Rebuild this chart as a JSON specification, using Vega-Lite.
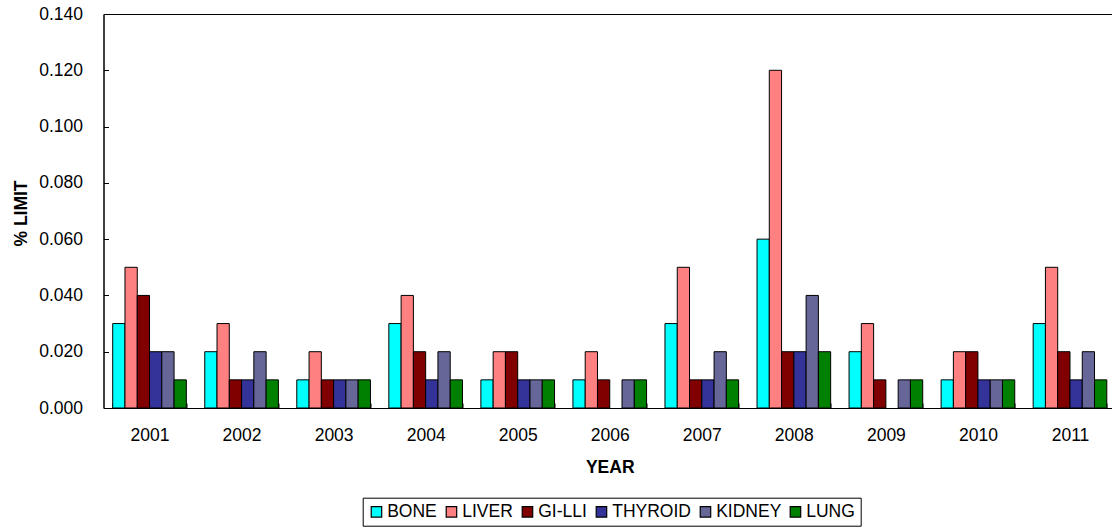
{
  "$schema": "https://vega.github.io/schema/vega-lite/v6.json",
  "autosize": {"type": "none"},
  "padding": {"left": 103.5, "top": 14, "right": 0, "bottom": 121},
  "width": 1012.5,
  "height": 394,
  "config": {
    "font": "Liberation Sans",
    "view": {"stroke": "black", "strokeWidth": 1},
    "axis": {"domainColor": "black", "tickColor": "black", "labelColor": "black", "titleColor": "black", "grid": false}
  },
  "data": {
    "values": [
      {"year": "2001", "organ": "BONE", "value": 0.03},
      {"year": "2001", "organ": "LIVER", "value": 0.05},
      {"year": "2001", "organ": "GI-LLI", "value": 0.04},
      {"year": "2001", "organ": "THYROID", "value": 0.02},
      {"year": "2001", "organ": "KIDNEY", "value": 0.02},
      {"year": "2001", "organ": "LUNG", "value": 0.01},
      {"year": "2002", "organ": "BONE", "value": 0.02},
      {"year": "2002", "organ": "LIVER", "value": 0.03},
      {"year": "2002", "organ": "GI-LLI", "value": 0.01},
      {"year": "2002", "organ": "THYROID", "value": 0.01},
      {"year": "2002", "organ": "KIDNEY", "value": 0.02},
      {"year": "2002", "organ": "LUNG", "value": 0.01},
      {"year": "2003", "organ": "BONE", "value": 0.01},
      {"year": "2003", "organ": "LIVER", "value": 0.02},
      {"year": "2003", "organ": "GI-LLI", "value": 0.01},
      {"year": "2003", "organ": "THYROID", "value": 0.01},
      {"year": "2003", "organ": "KIDNEY", "value": 0.01},
      {"year": "2003", "organ": "LUNG", "value": 0.01},
      {"year": "2004", "organ": "BONE", "value": 0.03},
      {"year": "2004", "organ": "LIVER", "value": 0.04},
      {"year": "2004", "organ": "GI-LLI", "value": 0.02},
      {"year": "2004", "organ": "THYROID", "value": 0.01},
      {"year": "2004", "organ": "KIDNEY", "value": 0.02},
      {"year": "2004", "organ": "LUNG", "value": 0.01},
      {"year": "2005", "organ": "BONE", "value": 0.01},
      {"year": "2005", "organ": "LIVER", "value": 0.02},
      {"year": "2005", "organ": "GI-LLI", "value": 0.02},
      {"year": "2005", "organ": "THYROID", "value": 0.01},
      {"year": "2005", "organ": "KIDNEY", "value": 0.01},
      {"year": "2005", "organ": "LUNG", "value": 0.01},
      {"year": "2006", "organ": "BONE", "value": 0.01},
      {"year": "2006", "organ": "LIVER", "value": 0.02},
      {"year": "2006", "organ": "GI-LLI", "value": 0.01},
      {"year": "2006", "organ": "KIDNEY", "value": 0.01},
      {"year": "2006", "organ": "LUNG", "value": 0.01},
      {"year": "2007", "organ": "BONE", "value": 0.03},
      {"year": "2007", "organ": "LIVER", "value": 0.05},
      {"year": "2007", "organ": "GI-LLI", "value": 0.01},
      {"year": "2007", "organ": "THYROID", "value": 0.01},
      {"year": "2007", "organ": "KIDNEY", "value": 0.02},
      {"year": "2007", "organ": "LUNG", "value": 0.01},
      {"year": "2008", "organ": "BONE", "value": 0.06},
      {"year": "2008", "organ": "LIVER", "value": 0.12},
      {"year": "2008", "organ": "GI-LLI", "value": 0.02},
      {"year": "2008", "organ": "THYROID", "value": 0.02},
      {"year": "2008", "organ": "KIDNEY", "value": 0.04},
      {"year": "2008", "organ": "LUNG", "value": 0.02},
      {"year": "2009", "organ": "BONE", "value": 0.02},
      {"year": "2009", "organ": "LIVER", "value": 0.03},
      {"year": "2009", "organ": "GI-LLI", "value": 0.01},
      {"year": "2009", "organ": "KIDNEY", "value": 0.01},
      {"year": "2009", "organ": "LUNG", "value": 0.01},
      {"year": "2010", "organ": "BONE", "value": 0.01},
      {"year": "2010", "organ": "LIVER", "value": 0.02},
      {"year": "2010", "organ": "GI-LLI", "value": 0.02},
      {"year": "2010", "organ": "THYROID", "value": 0.01},
      {"year": "2010", "organ": "KIDNEY", "value": 0.01},
      {"year": "2010", "organ": "LUNG", "value": 0.01},
      {"year": "2011", "organ": "BONE", "value": 0.03},
      {"year": "2011", "organ": "LIVER", "value": 0.05},
      {"year": "2011", "organ": "GI-LLI", "value": 0.02},
      {"year": "2011", "organ": "THYROID", "value": 0.01},
      {"year": "2011", "organ": "KIDNEY", "value": 0.02},
      {"year": "2011", "organ": "LUNG", "value": 0.01}
    ]
  },
  "mark": {"type": "bar", "stroke": "black", "strokeWidth": 1, "opacity": 1},
  "encoding": {
    "x": {
      "field": "year", "type": "nominal",
      "scale": {"paddingInner": 0.2, "paddingOuter": 0.1},
      "axis": {
        "title": "YEAR", "titleFontSize": 17.5, "titleFontWeight": "bold",
        "titleBaseline": "alphabetic", "titleY": 64.3,
        "labelAngle": 0, "labelFontSize": 17.5, "labelPadding": 23.4,
        "tickBand": "extent", "tickSize": -5, "tickWidth": 1, "domainWidth": 1
      }
    },
    "xOffset": {
      "field": "organ", "type": "nominal",
      "scale": {"domain": ["BONE", "LIVER", "GI-LLI", "THYROID", "KIDNEY", "LUNG"], "paddingInner": 0, "paddingOuter": 0}
    },
    "y": {
      "field": "value", "type": "quantitative",
      "scale": {"domain": [0, 0.14], "nice": false},
      "axis": {
        "title": "% LIMIT", "titleFontSize": 17.5, "titleFontWeight": "bold",
        "titleBaseline": "alphabetic", "titleX": -76.8, "titleY": 199,
        "values": [0, 0.02, 0.04, 0.06, 0.08, 0.1, 0.12, 0.14],
        "format": ".3f", "labelFontSize": 17.5, "labelPadding": 26,
        "tickSize": -5, "tickWidth": 1, "domainWidth": 1
      }
    },
    "color": {
      "field": "organ", "type": "nominal",
      "scale": {
        "domain": ["BONE", "LIVER", "GI-LLI", "THYROID", "KIDNEY", "LUNG"],
        "range": ["#00FFFF", "#FF8080", "#800000", "#333399", "#666699", "#008000"]
      },
      "legend": {
        "title": null, "orient": "none", "direction": "horizontal",
        "legendX": 259.2, "legendY": 483.7,
        "strokeColor": "black", "fillColor": "white", "padding": 5,
        "symbolType": "square", "symbolSize": 110, "symbolStrokeColor": "black", "symbolStrokeWidth": 1.2, "symbolOpacity": 1,
        "labelFontSize": 17.5, "labelColor": "black", "labelOffset": 2, "columnPadding": 5,
        "encode": {"symbols": {"update": {"stroke": {"value": "black"}, "strokeWidth": {"value": 1.2}}}}
      }
    }
  }
}
